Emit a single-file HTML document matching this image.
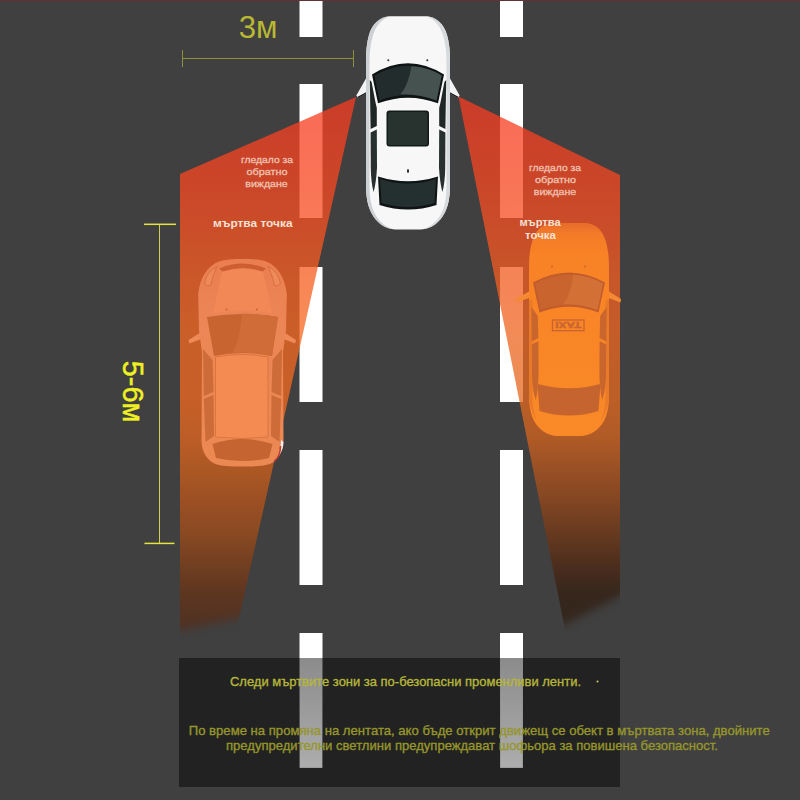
<!DOCTYPE html>
<html><head><meta charset="utf-8">
<style>
html,body{margin:0;padding:0;background:#404040;}
body{width:800px;height:800px;overflow:hidden;font-family:"Liberation Sans",sans-serif;}
svg{display:block;}
text{font-family:"Liberation Sans",sans-serif;}
</style></head><body>
<svg width="800" height="800" viewBox="0 0 800 800">
<defs>
<linearGradient id="coneL" gradientUnits="userSpaceOnUse" x1="0" y1="97" x2="0" y2="650">
<stop offset="0.0000" stop-color="rgb(247,59,34)" stop-opacity="0.76"/>
<stop offset="0.1863" stop-color="rgb(248,75,34)" stop-opacity="0.76"/>
<stop offset="0.3128" stop-color="rgb(247,94,34)" stop-opacity="0.76"/>
<stop offset="0.4213" stop-color="rgb(246,105,34)" stop-opacity="0.76"/>
<stop offset="0.5479" stop-color="rgb(242,106,32)" stop-opacity="0.76"/>
<stop offset="0.6203" stop-color="rgb(227,102,31)" stop-opacity="0.76"/>
<stop offset="0.6745" stop-color="rgb(206,96,28)" stop-opacity="0.76"/>
<stop offset="0.7288" stop-color="rgb(185,85,27)" stop-opacity="0.76"/>
<stop offset="0.7830" stop-color="rgb(164,78,26)" stop-opacity="0.76"/>
<stop offset="0.8373" stop-color="rgb(135,65,23)" stop-opacity="0.76"/>
<stop offset="0.8915" stop-color="rgb(106,52,22)" stop-opacity="0.76"/>
<stop offset="0.9458" stop-color="rgb(88,46,25)" stop-opacity="0.76"/>
<stop offset="1.0000" stop-color="rgb(77,43,27)" stop-opacity="0.76"/>
</linearGradient>
<linearGradient id="coneR" gradientUnits="userSpaceOnUse" x1="0" y1="96" x2="0" y2="650">
<stop offset="0.0000" stop-color="rgb(247,59,34)" stop-opacity="0.76"/>
<stop offset="0.1877" stop-color="rgb(247,75,34)" stop-opacity="0.76"/>
<stop offset="0.3141" stop-color="rgb(243,92,34)" stop-opacity="0.76"/>
<stop offset="0.4224" stop-color="rgb(239,102,34)" stop-opacity="0.76"/>
<stop offset="0.5487" stop-color="rgb(227,105,32)" stop-opacity="0.76"/>
<stop offset="0.6137" stop-color="rgb(213,100,31)" stop-opacity="0.76"/>
<stop offset="0.6733" stop-color="rgb(182,86,28)" stop-opacity="0.76"/>
<stop offset="0.7310" stop-color="rgb(151,72,26)" stop-opacity="0.76"/>
<stop offset="0.7906" stop-color="rgb(115,56,22)" stop-opacity="0.76"/>
<stop offset="0.8484" stop-color="rgb(80,40,19)" stop-opacity="0.76"/>
<stop offset="0.8953" stop-color="rgb(52,31,18)" stop-opacity="0.76"/>
<stop offset="1.0000" stop-color="rgb(46,30,19)" stop-opacity="0.76"/>
</linearGradient>
<linearGradient id="dashg" x1="0" y1="0" x2="0" y2="1"><stop offset="0" stop-color="#8b8b8b"/><stop offset="1" stop-color="#adadad"/></linearGradient>
<linearGradient id="taxig" gradientUnits="userSpaceOnUse" x1="0" y1="223" x2="0" y2="436"><stop offset="0" stop-color="#e66c2b"/><stop offset=".05" stop-color="#f37b29"/><stop offset=".15" stop-color="#f88226"/><stop offset="1" stop-color="#f98a27"/></linearGradient>
<linearGradient id="suvg" gradientUnits="userSpaceOnUse" x1="0" y1="259" x2="0" y2="466"><stop offset="0" stop-color="#ea7e50"/><stop offset=".3" stop-color="#ec8656"/><stop offset="1" stop-color="#ec8852"/></linearGradient>
<filter id="blur7" x="-20%" y="-20%" width="140%" height="140%"><feGaussianBlur stdDeviation="4.5"/></filter>
<mask id="mL" maskUnits="userSpaceOnUse" x="100" y="60" width="320" height="640">
<polygon points="100,60 420,60 420,586 300,606 240,618 178,631 100,646" fill="#fff" filter="url(#blur7)"/>
</mask>
<mask id="mR" maskUnits="userSpaceOnUse" x="400" y="60" width="320" height="640">
<polygon points="400,60 720,60 720,558 622,595 566,624 500,648 400,658" fill="#fff" filter="url(#blur7)"/>
</mask>
</defs>
<rect width="800" height="800" fill="#404040"/>
<rect width="800" height="1.4" fill="#5e3438"/>
<!-- lane dashes -->
<g fill="#ffffff">
<rect x="299.5" y="1" width="23" height="36"/>
<rect x="299.5" y="84" width="23" height="134"/>
<rect x="299.5" y="267" width="23" height="135"/>
<rect x="299.5" y="450" width="23" height="135"/>
<rect x="299.5" y="633" width="23" height="135"/>
<rect x="500" y="1" width="23" height="36"/>
<rect x="500" y="84" width="23" height="134"/>
<rect x="500" y="267" width="23" height="135"/>
<rect x="500" y="450" width="23" height="135"/>
<rect x="500" y="633" width="23" height="135"/>
</g>
<!-- cones -->
<g mask="url(#mL)"><polygon points="356,97 180,174 180,660 229.6,660" fill="url(#coneL)"/></g>
<g mask="url(#mR)"><polygon points="458.5,96.5 620,175 620,660 571.2,660" fill="url(#coneR)"/></g>
<!-- white car -->
<g id="whitecar">
<!-- mirrors -->
<path d="M368,75 L371,91 L358,97.600 L356.300,95.600 Z" fill="#f4f4f4"/>
<path d="M448,75 L445,91 L458,97.600 L459.700,95.600 Z" fill="#f4f4f4"/>
<path d="M370.500,90.500 L358,97.300" stroke="#151515" stroke-width="1.100" fill="none"/>
<path d="M445.500,90.500 L458,97.300" stroke="#151515" stroke-width="1.100" fill="none"/>
<!-- body -->
<path id="wbody" d="M390,16.200 L426,16.200 C436,16.500 444,24 447,35 C449,42 450,50 450,60 L450,185 C450,198 448,207 444,214 C440,221 432,229.500 420,229.500 L396,229.500 C384,229.500 376,221 372,214 C368,207 366,198 366,185 L366,60 C366,50 367,42 369,35 C372,24 380,16.500 390,16.200 Z" fill="#f7f7f7"/>
<!-- side shading -->
<path d="M366,60 C366,50 367,42 369,35 C372,24 380,16.500 390,16.200 C381,19 375,27 372.500,37 C370.500,45 369.500,52 369.500,60 L369.500,185 C369.500,197 371,206 374.500,213 C378,220 385,228 396,229.500 C384,229.500 376,221 372,214 C368,207 366,198 366,185 Z" fill="#cdd1d3"/>
<path d="M450,60 C450,50 449,42 447,35 C444,24 436,16.500 426,16.200 C435,19 441,27 443.500,37 C445.500,45 446.500,52 446.500,60 L446.500,185 C446.500,197 445,206 441.500,213 C438,220 431,228 420,229.500 C432,229.500 440,221 444,214 C448,207 450,198 450,185 Z" fill="#d6dadc"/>
<!-- side windows -->
<path d="M369.800,80 L371.600,82 L375.400,102 L376.800,108 L376.800,126 L370.600,129 Z" fill="#1f2726"/>
<path d="M370.600,132.500 L376.800,129.500 L377,168 Q376,184 373.500,192 Q371,182 370.800,168 Z" fill="#27302f"/>
<path d="M446.200,80 L444.400,82 L440.600,102 L439.200,108 L439.200,126 L445.400,129 Z" fill="#1f2726"/>
<path d="M445.400,132.500 L439.200,129.500 L439,168 Q440,184 442.500,192 Q445,182 445.200,168 Z" fill="#27302f"/>
<!-- windshield -->
<path d="M372,74.500 Q408,52 444,74.500 L438,103.300 Q408,92 378,103.300 Z" fill="#0e1313"/>
<path d="M374.300,75.500 Q408,56 441.700,75.500 L436.500,100.500 Q408,89.500 379.500,100.500 Z" fill="#222c2c"/>
<path d="M411.500,66.200 Q430,67.500 441.700,75.500 L436.500,100.500 Q418,93.500 400.500,94.300 Q408,86 411.500,66.200 Z" fill="#465250"/>
<!-- sunroof -->
<rect x="386.500" y="110.500" width="42.500" height="36" rx="3" fill="#141a1a"/>
<rect x="388" y="112" width="39.500" height="33" rx="2" fill="#28322f"/>
<!-- rear window -->
<path d="M378,176.500 Q408,186 438,176.500 L436.500,205 Q408,214 379.500,205 Z" fill="#0e1313"/>
<path d="M380,179 Q408,188 436,179 L434.500,203 Q408,211 381.500,203 Z" fill="#243030"/>
<!-- details -->
<circle cx="388.300" cy="60.300" r="1" fill="#333"/>
<circle cx="427.300" cy="60.300" r="1" fill="#333"/>
<ellipse cx="408" cy="171" rx="1" ry="2" fill="#222"/>
</g>

<!-- left SUV (orange tinted) -->
<g id="suv">
<!-- mirrors -->
<path d="M203,331 L188.500,340 L189.500,343.500 L204,338 Z" fill="#ef8a58"/>
<path d="M282,331 L296,340 L295,343.500 L281,338 Z" fill="#ef8a58"/>
<!-- body -->
<path d="M242.500,259 C252,259 260,259.500 266,261.500 C277,265.500 285,277 286.800,294 L286,330 L283,352 L283.500,440 C283.500,452 278,461 268,464.500 C260,466.500 250,466.500 242.500,466.500 C235,466.500 225,466.500 217,464.500 C207,461 201.500,452 201.500,440 L202,352 L199,330 L198.200,294 C200,277 208,265.500 219,261.500 C225,259.500 233,259 242.500,259 Z" fill="url(#suvg)"/>
<!-- grille -->
<path d="M219,268.500 Q242.500,258.500 266,268.500 L262.500,271.500 Q242.500,264.500 222.500,271.500 Z" fill="#cc5e32"/>
<!-- hood -->
<path d="M222,272 Q242.500,266 263,272 L272,313.500 Q242.500,307.500 213,313.500 Z" fill="#f38857"/>
<!-- headlights -->
<path d="M204.500,284 Q206,272 217,266.500 Q213,274 210.500,285.500 Q207,287 204.500,284 Z" fill="#ee8a5a" stroke="#d56a3a" stroke-width=".8"/>
<path d="M280.500,284 Q279,272 268,266.500 Q272,274 274.500,285.500 Q278,287 280.500,284 Z" fill="#ee8a5a" stroke="#d56a3a" stroke-width=".8"/>
<!-- windshield -->
<path d="M207,317 Q242.500,311 278,317 L272,356 Q242.500,350 214,356 Z" fill="#c86430"/>
<path d="M242,313.500 Q262,314 278,317 L272,356 Q250,351 232,353 Q240,340 242,313.500 Z" fill="#d06c37"/>
<!-- side windows -->
<path d="M203,349 L212.500,360 L213.500,392 L203.800,396 Z" fill="#cd6c38"/>
<path d="M203.800,399 L213.500,395 L214,436 L205.500,442 Z" fill="#cd6c38"/>
<path d="M282,349 L272.500,360 L271.500,392 L281.200,396 Z" fill="#cd6c38"/>
<path d="M281.200,399 L271.500,395 L271,436 L279.500,442 Z" fill="#cd6c38"/>
<!-- roof -->
<path d="M215.500,357 Q242.500,352 268,357 L268,437 Q242.500,440 215.500,437 Z" fill="#f38b53" stroke="#d8703a" stroke-width=".8"/>
<!-- rear window -->
<path d="M212.500,444 Q242.500,434 272.500,444 L269,458 Q242.500,464 216,458 Z" fill="#c56430"/>
<circle cx="226.500" cy="309.500" r=".9" fill="#c06030"/>
<circle cx="257" cy="309.500" r=".9" fill="#c06030"/>
<!-- rear corner outside cone -->
<path d="M281,440 C281,452 277,461 268,464.500 C276,462 283.500,452 283.500,442 Z" fill="#eceff0"/>
<path d="M280.500,446 Q280.500,456 274,461.500" stroke="#c0392b" stroke-width="1.600" fill="none"/>
</g>
<!-- right taxi (orange tinted) -->
<g id="taxi">
<path d="M531.500,290 L516,299 L516.500,302.500 L532,297 Z" fill="#f68a34"/>
<path d="M606.500,290 L621,299 L620.500,302.500 L606,297 Z" fill="#f68a34"/>
<path d="M552,223 L586,223 C596,223.500 603,231 606,242 C608,249 609,257 609,267 L609,395 C609,407 607,416 603,422.500 C599,429 591,436 580,436 L558,436 C547,436 539,429 535,422.500 C531,416 529,407 529,395 L529,267 C529,257 530,249 532,242 C535,231 542,223.500 552,223 Z" fill="url(#taxig)"/>
<!-- darker sides -->
<path d="M529,300 L532.500,300 L532.500,395 C532.500,407 534,415 538,422 C534,416 529,407 529,395 Z" fill="#e97a2a"/>
<path d="M609,300 L605.500,300 L605.500,395 C605.500,407 604,415 600,422 C604,416 609,407 609,395 Z" fill="#e97a2a"/>
<!-- windshield -->
<path d="M533,282.500 Q569,262.500 605,282.500 L598.500,312.500 Q569,301 539.500,312.500 Z" fill="#c25c2c"/>
<path d="M535,283.500 Q569,266 603,283.500 L597.500,310 Q569,299.500 540.500,310 Z" fill="#c9642f"/>
<path d="M573,274.500 Q591,276 603,283.500 L597.500,310 Q580,303.500 563,304.500 Q571,295 573,274.500 Z" fill="#d27035"/>
<!-- side windows -->
<path d="M531.300,307 L537.800,316 L538.400,338 L531.800,341.500 Z" fill="#c9662e"/>
<path d="M531.800,344.500 L538.400,341 L538.600,376 Q537.800,392 535.800,400 Q532.300,390 532,376 Z" fill="#c9662e"/>
<path d="M606.700,307 L600.200,316 L599.600,338 L606.200,341.500 Z" fill="#c9662e"/>
<path d="M606.200,344.500 L599.600,341 L599.400,376 Q600.200,392 602.200,400 Q605.700,390 606,376 Z" fill="#c9662e"/>
<!-- rear window -->
<path d="M537.500,384 Q569,392.500 600.500,384 L598.500,411 Q569,420 539.500,411 Z" fill="#c5642e"/>
<!-- taxi sign -->
<rect x="552.500" y="320" width="31.500" height="10.700" fill="none" stroke="#c96430" stroke-width="1.300"/>
<text x="568.250" y="328.600" transform="rotate(180 568.250 325.350)" font-size="9" font-weight="bold" text-anchor="middle" fill="#c96430" stroke="#c96430" stroke-width=".4" textLength="26" lengthAdjust="spacingAndGlyphs">TAXI</text>
<circle cx="552" cy="266.500" r=".9" fill="#c8642c"/>
<circle cx="585" cy="266.500" r=".9" fill="#c8642c"/>
</g>
<!-- labels -->
<g font-size="9.800" fill="#efc2b0" stroke="#efc2b0" stroke-width=".3" text-anchor="middle">
<text x="267" y="163" textLength="52" lengthAdjust="spacingAndGlyphs">гледало за</text>
<text x="267" y="174.500" textLength="41" lengthAdjust="spacingAndGlyphs">обратно</text>
<text x="266.500" y="186.500" textLength="42.500" lengthAdjust="spacingAndGlyphs">виждане</text>
<text x="555" y="171" textLength="52" lengthAdjust="spacingAndGlyphs">гледало за</text>
<text x="555.500" y="182.500" textLength="41" lengthAdjust="spacingAndGlyphs">обратно</text>
<text x="555" y="194.500" textLength="42.500" lengthAdjust="spacingAndGlyphs">виждане</text>
</g>
<g font-size="11" font-weight="bold" fill="#f8e0d3" text-anchor="middle">
<text x="252.750" y="226.500" textLength="79.500" lengthAdjust="spacingAndGlyphs">мъртва точка</text>
<text x="540" y="226" textLength="41.250" lengthAdjust="spacingAndGlyphs">мъртва</text>
<text x="540.500" y="239" textLength="31" lengthAdjust="spacingAndGlyphs">точка</text>
</g>
<!-- dimension lines -->
<g stroke="#90903a" stroke-width="1" fill="none">
<path d="M182,58.500 H354"/>
<path d="M182.500,50 V67"/>
<path d="M353.500,50 V67"/>
</g>
<text x="258" y="37.500" font-size="30.500" fill="#b8b832" text-anchor="middle" textLength="38.750" lengthAdjust="spacingAndGlyphs">3м</text>
<g fill="none">
<path d="M159.500,224 V543.500" stroke="#cfcf58" stroke-width="1"/>
<path d="M144,224.300 H176" stroke="#e4e440" stroke-width="1.500"/>
<path d="M144.500,543.400 H174.500" stroke="#e4e440" stroke-width="1.500"/>
</g>
<text transform="translate(123,391.500) rotate(90)" font-size="28.600" fill="#eef022" text-anchor="middle" textLength="61.500" lengthAdjust="spacingAndGlyphs" stroke="#eef022" stroke-width=".5">5-6м</text>
<!-- bottom overlay -->
<rect x="179" y="658" width="441" height="129" fill="#000" fill-opacity=".46"/>
<rect x="300" y="658" width="22" height="109.500" fill="url(#dashg)"/>
<rect x="500.500" y="658" width="22" height="109.500" fill="url(#dashg)"/>
<g font-size="13" stroke-width=".35">
<text x="230" y="686" fill="#b6b63a" stroke="#b6b63a" textLength="351" lengthAdjust="spacingAndGlyphs">Следи мъртвите зони за по-безопасни променливи ленти.</text>
<circle cx="597.500" cy="681.500" r="1" fill="#d8d860"/>
<text x="188.750" y="734.500" fill="#96962c" stroke="#96962c" textLength="581" lengthAdjust="spacingAndGlyphs">По време на промяна на лентата, ако бъде открит движещ се обект в мъртвата зона, двойните</text>
<text x="226" y="749.500" fill="#96962c" stroke="#96962c" textLength="492" lengthAdjust="spacingAndGlyphs">предупредителни светлини предупреждават шофьора за повишена безопасност.</text>
</g>
</svg>
</body></html>
